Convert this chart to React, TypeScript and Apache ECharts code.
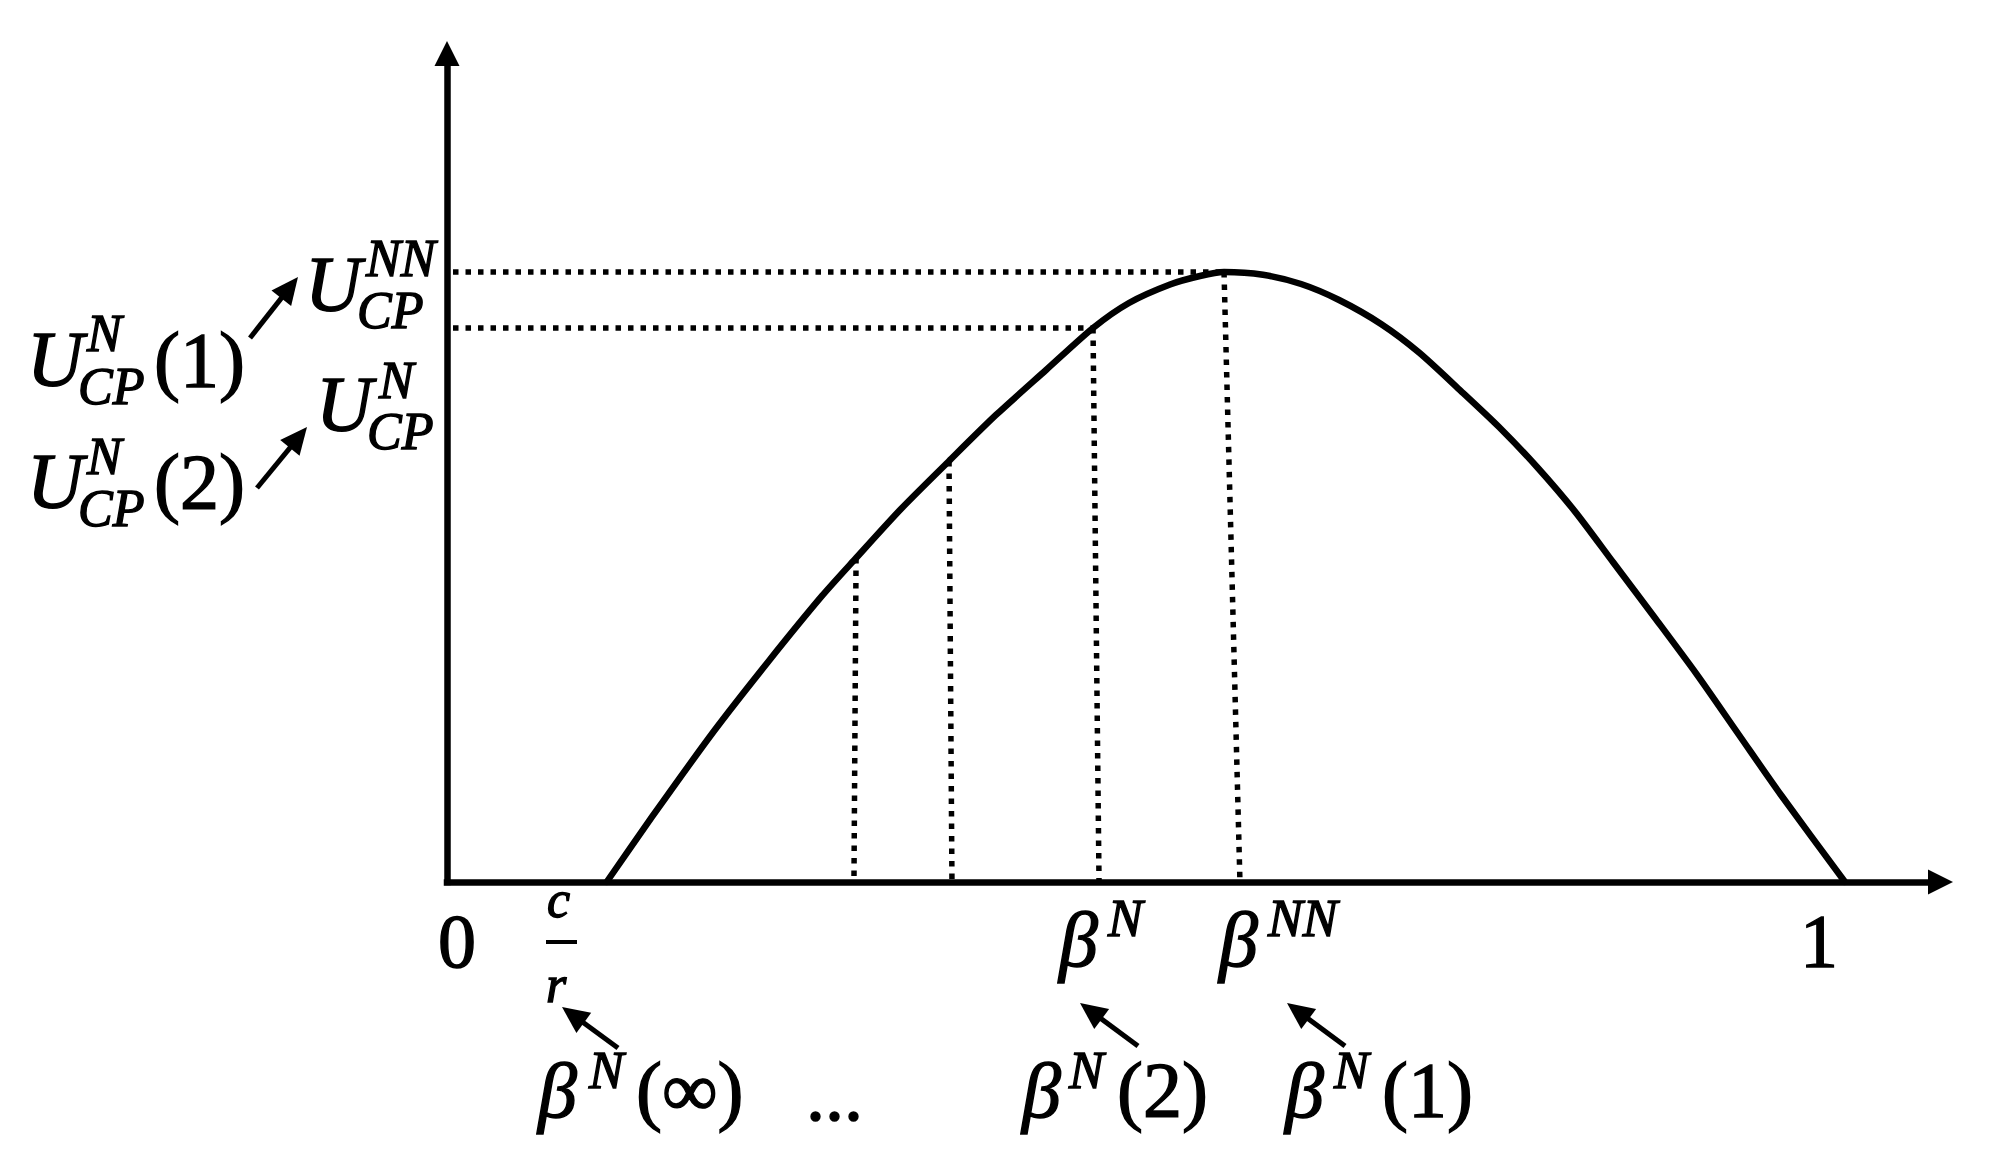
import React, { useEffect, useRef } from "react";
import * as echarts from "echarts";

// ---- data (x: share of the unit interval, y: utility relative to the peak) ----
const curveX = [
  0.1142, 0.1466, 0.191, 0.2296, 0.2682, 0.2926, 0.3247, 0.3591, 0.3927, 0.4285,
  0.4621, 0.4878, 0.5172, 0.5386, 0.5558, 0.5837, 0.6109, 0.6381, 0.6681, 0.6953,
  0.7253, 0.7525, 0.7797, 0.8069, 0.834, 0.8641, 0.8941, 0.9242, 0.9542, 1.0,
];
const curveY = [
  0, 0.1066, 0.2475, 0.3607, 0.4689, 0.5311, 0.6115, 0.6902, 0.7656, 0.8393,
  0.9082, 0.9492, 0.9795, 0.9934, 1.0, 0.9954, 0.9803, 0.9541, 0.9148, 0.868,
  0.8049, 0.7459, 0.6803, 0.6072, 0.5246, 0.4328, 0.34, 0.241, 0.1426, 0,
];
// vertical dotted drops: point on curve -> foot on the x axis
const dropTopX = [0.2926, 0.3591, 0.4621, 0.5558];
const dropTopY = [0.5311, 0.6902, 0.9082, 1.0];
const dropFootX = [0.2911, 0.3612, 0.4664, 0.5672];
// horizontal dotted levels: from the y axis to the curve
const levelStartX = 0.0043;
const levelEndX = [0.5558, 0.4621];
const levelY = [1.0, 0.9082];

const X_MAX = 1.0683;
const Y_MAX = 1.3582;

const SERIF = '"Liberation Serif", "Times New Roman", serif';

type Piece = [string, number, number, number, boolean];
// text, left x, baseline y, font size, italic
const pieces: Piece[] = [
  ["U", 305, 310, 78, true], ["NN", 366, 276, 52, true], ["CP", 357, 328, 52, true],
  ["U", 27, 385, 78, true], ["N", 87, 351, 52, true], ["CP", 78, 404, 52, true], ["(1)", 154, 386, 78, false],
  ["U", 316, 430, 78, true], ["N", 379, 398, 52, true], ["CP", 367, 449, 52, true],
  ["U", 27, 507, 78, true], ["N", 87, 474, 52, true], ["CP", 78, 526, 52, true], ["(2)", 154, 508, 78, false],
  ["0", 438, 967, 76, false],
  ["c", 547, 917, 52, true], ["r", 546, 1002, 52, true],
  ["β", 1059, 966, 78, true], ["N", 1108, 936, 52, true],
  ["β", 1219, 966, 78, true], ["NN", 1268, 936, 52, true],
  ["1", 1800, 967, 76, false],
  ["β", 538, 1117, 78, true], ["N", 589, 1088, 52, true], ["(∞)", 636, 1116, 78, false],
  ["...", 806, 1120, 76, false],
  ["β", 1022, 1117, 78, true], ["N", 1069, 1088, 52, true], ["(2)", 1117, 1116, 78, false],
  ["β", 1285, 1117, 78, true], ["N", 1334, 1088, 52, true], ["(1)", 1382, 1116, 78, false],
];

const arrows: [number, number, number, number][] = [
  [250, 338, 298, 277],
  [257, 488, 307, 427],
  [618, 1048, 562, 1007],
  [1138, 1046, 1080, 1003],
  [1345, 1046, 1287, 1003],
];

function textEl(p: Piece) {
  const [text, x, base, size, italic] = p;
  return {
    type: "text",
    x,
    y: base - size * 0.3375,
    silent: true,
    style: {
      text,
      fill: "#000",
      stroke: "#000",
      lineWidth: 1.4,
      font: `${italic ? "italic " : ""}${size}px ${SERIF}`,
      align: "left",
      verticalAlign: "middle",
    },
  };
}

function arrowEls(a: [number, number, number, number]) {
  const [x0, y0, x1, y1] = a;
  const dx = x1 - x0, dy = y1 - y0;
  const len = Math.hypot(dx, dy);
  const ux = dx / len, uy = dy / len;
  const headLen = 27, halfW = 12.5;
  const bx = x1 - ux * headLen, by = y1 - uy * headLen;
  const px = -uy, py = ux;
  return [
    { type: "line", silent: true, shape: { x1: x0, y1: y0, x2: bx + ux * 2, y2: by + uy * 2 }, style: { stroke: "#000", lineWidth: 5 } },
    {
      type: "polygon",
      silent: true,
      shape: { points: [[x1, y1], [bx + px * halfW, by + py * halfW], [bx - px * halfW, by - py * halfW]] },
      style: { fill: "#000" },
    },
  ];
}

export default function App() {
  const ref = useRef<HTMLDivElement>(null);
  useEffect(() => {
    document.body.style.margin = "0";
    if (!ref.current) return;
    const chart = echarts.init(ref.current, undefined, { renderer: "svg" });
    const dotted = { color: "#000", width: 5.5, type: [5.5, 7], cap: "butt" };
    const series: any[] = [
      {
        type: "line",
        data: curveX.map((x, i) => [x, curveY[i]]),
        smooth: 0.25,
        showSymbol: false,
        lineStyle: { color: "#000", width: 6.5, cap: "round", join: "round" },
        z: 4,
      },
    ];
    dropTopX.forEach((x, i) => {
      series.push({
        type: "line",
        data: [[x, dropTopY[i]], [dropFootX[i], 0]],
        showSymbol: false,
        lineStyle: dotted,
        z: 3,
      });
    });
    levelY.forEach((y, i) => {
      series.push({
        type: "line",
        data: [[levelStartX, y], [levelEndX[i], y]],
        showSymbol: false,
        lineStyle: dotted,
        z: 3,
      });
    });
    const axisCommon = {
      type: "value",
      min: 0,
      axisTick: { show: false },
      axisLabel: { show: false },
      splitLine: { show: false },
      axisLine: {
        show: true,
        onZero: false,
        symbol: ["none", "triangle"],
        symbolSize: [25, 25],
        lineStyle: { color: "#000", width: 6.5, cap: "square" },
      },
    };
    const graphic: any[] = [];
    pieces.forEach((p) => graphic.push(textEl(p)));
    arrows.forEach((a) => graphic.push(...arrowEls(a)));
    graphic.push({
      type: "line",
      silent: true,
      shape: { x1: 546, y1: 942, x2: 577, y2: 942 },
      style: { stroke: "#000", lineWidth: 4 },
    });
    chart.setOption({
      animation: false,
      backgroundColor: "#fff",
      grid: { left: 447, right: 68.5, top: 53.5, bottom: 279 },
      xAxis: { ...axisCommon, max: X_MAX },
      yAxis: { ...axisCommon, max: Y_MAX },
      series,
      graphic,
    });
    return () => chart.dispose();
  }, []);
  return (
    <div
      ref={ref}
      style={{ position: "fixed", left: 0, top: 0, width: 2009, height: 1161, background: "#fff" }}
    />
  );
}
